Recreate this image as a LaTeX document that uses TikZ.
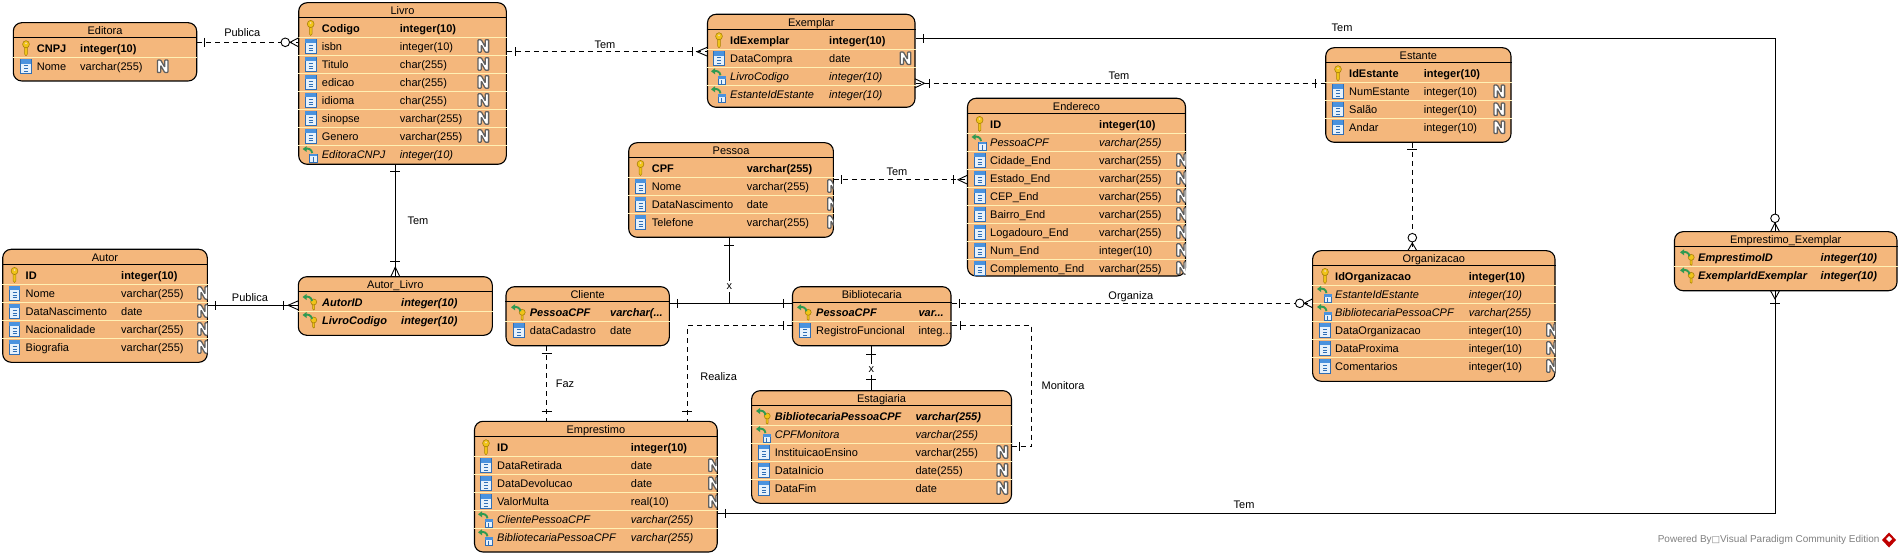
\documentclass[tikz,border=0pt]{standalone}
\usepackage{fontspec}
\setmainfont{Liberation Sans}
\newfontfamily\djv{DejaVu Sans}
\definecolor{entfill}{HTML}{F4B77C}
\definecolor{rowsep}{HTML}{FFF0B4}
\definecolor{keygold}{HTML}{F0C419}
\definecolor{keydark}{HTML}{A98008}
\definecolor{icoblue}{HTML}{4A92DE}
\definecolor{icodark}{HTML}{2F6EB5}
\definecolor{icolight}{HTML}{E6F1FB}
\definecolor{fkgreen}{HTML}{2F9A52}
\definecolor{ngray}{HTML}{5F5F5F}
\tikzset{
  x=1pt,y=-1pt,
  entbox/.style={draw=black,line width=1.1pt,fill=entfill,rounded corners=8.5pt,inner sep=0pt},
  txt/.style={font=\fontsize{11}{13}\selectfont,inner sep=0pt,text height=8pt,text depth=2.3pt,yshift=-1.5pt},
  rowname/.style={txt,anchor=west},
  conlabel/.style={txt,anchor=center},
  conn/.style={line width=1pt,draw=black},
  dconn/.style={conn,dash pattern=on 5pt off 4pt},
  mk/.style={line width=.9pt,draw=black},
  keyico/.pic={
    \draw[line width=.5pt,draw=keydark,fill=keygold] (-1.3,-1.5) -- (-1.3,6) -- (0,7.5) -- (1.3,6) -- (1.3,-1.5) -- cycle;
    \draw[line width=.6pt,draw=keydark,fill=keygold] (0,-4) ellipse [x radius=3.4,y radius=3.6];
    \fill[entfill!60!white] (0,-5) circle[radius=1pt];
  },
  colico/.pic={
    \draw[line width=.7pt,draw=icodark,fill=icolight] (-5.3,-7) rectangle (5.3,7.2);
    \fill[icoblue] (-5.3,-7) rectangle (5.3,-2.6);
    \draw[line width=1.1pt,draw=icodark] (-2,-.5) -- (2,-.5) (-2,2.2) -- (2,2.2) (-2,4.9) -- (2,4.9);
  },
  greenarrow/.pic={
    \draw[line width=1.9pt,draw=fkgreen] (1.5,-1) .. controls (1,-5) and (-3,-6) .. (-5,-5);
    \fill[fkgreen] (-8,-5) -- (-4,-8) -- (-4,-2) -- cycle;
  },
  fkico/.pic={
    \draw[line width=.6pt,draw=icodark,fill=icolight] (-1,0) rectangle (6.5,8);
    \fill[icoblue] (-1,0) rectangle (6.5,2.5);
    \draw[line width=1pt,draw=icodark] (2.7,3.5) -- (2.7,8);
    \pic at (0,0) {greenarrow};
  },
  pfico/.pic={
    \draw[line width=.5pt,draw=keydark,fill=keygold] (2.2,2) -- (2.2,7) -- (3.2,8) -- (4.2,7) -- (4.2,2) -- cycle;
    \draw[line width=.6pt,draw=keydark,fill=keygold] (3.2,0) circle[radius=3pt];
    \pic at (0,0) {greenarrow};
  },
  nico/.pic={
    \draw[line width=1.3pt,draw=ngray,fill=white,rounded corners=.7pt]
      (-5.3,-6.2) -- (-2,-6.2) -- (2,.8) -- (2,-6.2) -- (5.3,-6.2) -- (5.3,6.2) -- (2,6.2) -- (-2,-.8) -- (-2,6.2) -- (-5.3,6.2) -- cycle;
  },
}
\newcount\rowc
% id, title, x1, y1, x2, y2, header line y
\newcommand{\ent}[7]{%
  \def\eid{#1}\def\exa{#3}\def\exb{#5}\def\eya{#4}\def\eyb{#6}\global\rowc=0
  \pgfmathsetmacro\ew{#5-#3}\pgfmathsetmacro\eh{#6-#4}%
  \pgfmathsetmacro\ecx{(#3+#5)/2}\pgfmathsetmacro\ecy{(#4+#6)/2}\pgfmathsetmacro\ety{(#4+#7)/2}%
  \node[entbox,minimum width=\ew pt,minimum height=\eh pt] (#1) at (\ecx,\ecy) {};
  \draw[line width=1pt] (#1.west |- 0,#7) -- (#1.east |- 0,#7);
  \node[conlabel] (#1-title) at (\ecx,\ety) {#2};
}
% icon x, name x, type x, N x
\newcommand{\cols}[4]{\def\cico{#1}\def\cnam{#2}\def\ctyp{#3}\def\cnnn{#4}}
\newcommand{\sepline}[1]{\ifnum\rowc>0
    \pgfmathsetmacro\sy{#1-9}\draw[line width=.9pt,draw=rowsep] (\eid.west |- 0,\sy) -- (\eid.east |- 0,\sy);\fi
  \global\advance\rowc by 1 }
\newcommand{\cellrow}[4]{\node[rowname] (\eid-\the\rowc-n) at (\cnam,#1) {#2#3};
  \node[rowname] (\eid-\the\rowc-t) at (\ctyp,#1) {#2#4};}
\newcommand{\rk}[3]{\sepline{#1}\pic at (\cico,#1) {keyico};\cellrow{#1}{\bfseries}{#2}{#3}}
\newcommand{\rp}[3]{\sepline{#1}\pic at (\cico,#1) {pfico};\cellrow{#1}{\bfseries\itshape}{#2}{#3}}
\newcommand{\rf}[3]{\sepline{#1}\pic at (\cico,#1) {fkico};\cellrow{#1}{\itshape}{#2}{#3}}
\newcommand{\rc}[3]{\sepline{#1}\pic at (\cico,#1) {colico};\cellrow{#1}{}{#2}{#3}}
\newcommand{\rn}[3]{\rc{#1}{#2}{#3}\begin{scope}\clip (\exa,\eya) rectangle (\exb,\eyb);\pic at (\cnnn,#1) {nico};\end{scope}}
% connector marks
\newcommand{\tkv}[2]{\draw[mk] (#1,#2-4.5) -- (#1,#2+4.5);}
\newcommand{\tkh}[2]{\draw[mk] (#1-5,#2) -- (#1+5,#2);}
\newcommand{\crh}[3]{\draw[mk] (#3,#2-4.5) -- (#1,#2) -- (#3,#2+4.5);}
\newcommand{\crv}[3]{\draw[mk] (#1-4.5,#3) -- (#1,#2) -- (#1+4.5,#3);}
\newcommand{\circm}[2]{\draw[mk,fill=white] (#1,#2) circle[radius=4.3pt];}
\begin{document}
\begin{tikzpicture}
\useasboundingbox (0,0) rectangle (1901,556);
\fill[white] (0,0) rectangle (1901,556);

% entities
\ent{editora}{Editora}{13.3}{22.7}{196.7}{81}{37.3}
\cols{26}{36.7}{80}{162.7}
\rk{48.3}{CNPJ}{integer(10)}
\rn{66.3}{Nome}{varchar(255)}

\ent{livro}{Livro}{298.7}{2.7}{506.3}{164.3}{17.3}
\cols{310.7}{321.7}{399.7}{483.3}
\rk{28}{Codigo}{integer(10)}
\rn{46}{isbn}{integer(10)}
\rn{64}{Titulo}{char(255)}
\rn{82}{edicao}{char(255)}
\rn{100}{idioma}{char(255)}
\rn{118}{sinopse}{varchar(255)}
\rn{136}{Genero}{varchar(255)}
\rf{154}{EditoraCNPJ}{integer(10)}

\ent{exemplar}{Exemplar}{707.5}{14.3}{915}{107.3}{29.3}
\cols{719}{730}{829}{905.5}
\rk{40.3}{IdExemplar}{integer(10)}
\rn{58.3}{DataCompra}{date}
\rf{76.3}{LivroCodigo}{integer(10)}
\rf{94.3}{EstanteIdEstante}{integer(10)}

\ent{estante}{Estante}{1325.7}{47.7}{1511}{142.3}{62.7}
\cols{1338}{1349}{1423.7}{1499.3}
\rk{73.3}{IdEstante}{integer(10)}
\rn{91.3}{NumEstante}{integer(10)}
\rn{109.3}{Salão}{integer(10)}
\rn{127.3}{Andar}{integer(10)}

\ent{endereco}{Endereco}{967.5}{98.3}{1185.5}{276}{113.3}
\cols{979.6}{990}{1099}{1182}
\rk{124}{ID}{integer(10)}
\rf{142}{PessoaCPF}{varchar(255)}
\rn{160}{Cidade\_End}{varchar(255)}
\rn{178}{Estado\_End}{varchar(255)}
\rn{196}{CEP\_End}{varchar(255)}
\rn{214}{Bairro\_End}{varchar(255)}
\rn{232}{Logadouro\_End}{varchar(255)}
\rn{250}{Num\_End}{integer(10)}
\rn{268}{Complemento\_End}{varchar(255)}

\ent{pessoa}{Pessoa}{628.7}{142.7}{833.4}{237.3}{157.7}
\cols{640.5}{651.7}{746.6}{833}
\rk{168}{CPF}{varchar(255)}
\rn{186}{Nome}{varchar(255)}
\rn{204}{DataNascimento}{date}
\rn{222}{Telefone}{varchar(255)}

\ent{autor}{Autor}{2.7}{249.3}{207.3}{362.3}{264.3}
\cols{14.5}{25.5}{121}{203}
\rk{275}{ID}{integer(10)}
\rn{293}{Nome}{varchar(255)}
\rn{311}{DataNascimento}{date}
\rn{329}{Nacionalidade}{varchar(255)}
\rn{347}{Biografia}{varchar(255)}

\ent{autorlivro}{Autor\_Livro}{298.3}{276.7}{492.3}{335.3}{291.7}
\cols{310.5}{322}{401}{480}
\rp{302}{AutorID}{integer(10)}
\rp{320}{LivroCodigo}{integer(10)}

\ent{cliente}{Cliente}{506}{286.7}{669.3}{345.7}{301.7}
\cols{519}{529.7}{610}{660}
\rp{312.3}{PessoaCPF}{varchar(...}
\rc{330.3}{dataCadastro}{date}

\ent{bibliotecaria}{Bibliotecaria}{792.5}{286.7}{951}{345.7}{302}
\cols{805}{816}{918.4}{945}
\rp{312.3}{PessoaCPF}{var...}
\rc{330.3}{RegistroFuncional}{integ...}

\ent{estagiaria}{Estagiaria}{751.6}{390.7}{1011.5}{503.3}{405.3}
\cols{764}{774.6}{915.4}{1002.3}
\rp{416}{BibliotecariaPessoaCPF}{varchar(255)}
\rf{434}{CPFMonitora}{varchar(255)}
\rn{452}{InstituicaoEnsino}{varchar(255)}
\rn{470}{DataInicio}{date(255)}
\rn{488}{DataFim}{date}

\ent{emprestimo}{Emprestimo}{474.5}{421.3}{717.2}{552}{436.7}
\cols{486}{497}{630.7}{714}
\rk{447.3}{ID}{integer(10)}
\rn{465.3}{DataRetirada}{date}
\rn{483.3}{DataDevolucao}{date}
\rn{501.3}{ValorMulta}{real(10)}
\rf{519.3}{ClientePessoaCPF}{varchar(255)}
\rf{537.3}{BibliotecariaPessoaCPF}{varchar(255)}

\ent{organizacao}{Organizacao}{1312.6}{250.7}{1555}{381.3}{265.3}
\cols{1325}{1335}{1468.6}{1552}
\rk{276}{IdOrganizacao}{integer(10)}
\rf{294}{EstanteIdEstante}{integer(10)}
\rf{312}{BibliotecariaPessoaCPF}{varchar(255)}
\rn{330}{DataOrganizacao}{integer(10)}
\rn{348}{DataProxima}{integer(10)}
\rn{366}{Comentarios}{integer(10)}

\ent{empex}{Emprestimo\_Exemplar}{1674.5}{231.7}{1897}{290.7}{246.7}
\cols{1688}{1698}{1820.5}{1880}
\rp{257.3}{EmprestimoID}{integer(10)}
\rp{275.3}{ExemplarIdExemplar}{integer(10)}

% connectors
\coordinate (junc) at (729.4,303.3);
\coordinate (realizaTurn) at (687.3,325.7);
\coordinate (monitoraTurn) at (1031.7,325.7);
\coordinate (monitoraLow) at (1031.7,446.7);

\draw[dconn] (editora.east |- 0,42.3) -- (livro.west |- 0,42.3);
\tkv{204}{42.3}\crh{290}{42.3}{298.7}\circm{285.3}{42.3}

\draw[dconn] (livro.east |- 0,51.7) -- (exemplar.west |- 0,51.7);
\tkv{515.7}{51.7}\tkv{692}{51.7}\crh{697}{51.7}{707.5}

\draw[conn] (exemplar.east |- 0,38.3) -| (empex.north -| 1775,0);
\tkv{923}{38.3}\crv{1775}{223}{231.7}\circm{1775}{218.3}

\draw[dconn] (exemplar.east |- 0,83.3) -- (estante.west |- 0,83.3);
\crh{924.5}{83.3}{915}\tkv{929}{83.3}\tkv{1315.7}{83.3}

\draw[dconn] (estante.south -| 1412.3,0) -- (organizacao.north -| 1412.3,0);
\tkh{1412.3}{149}\crv{1412.3}{243}{250.7}\circm{1412.3}{237.7}

\draw[dconn] (pessoa.east |- 0,179.7) -- (endereco.west |- 0,179.7);
\tkv{841}{179.7}\tkv{953}{179.7}\crh{958}{179.7}{967.5}

\draw[conn] (livro.south -| 395.3,0) -- (autorlivro.north -| 395.3,0);
\tkh{395.3}{171}\tkh{395.3}{261.7}\crv{395.3}{267}{276.7}

\draw[conn] (autor.east |- 0,305.3) -- (autorlivro.west |- 0,305.3);
\tkv{215.5}{305.3}\tkv{283.3}{305.3}\crh{288}{305.3}{298.3}

\draw[conn] (pessoa.south -| junc) -- (junc);
\tkh{729.4}{245}
\draw[conn] (cliente.east |- junc) -- (bibliotecaria.west |- junc);
\tkv{677}{303.3}\tkv{783}{303.3}

\draw[dconn] (bibliotecaria.west |- realizaTurn) -- (realizaTurn) -- (emprestimo.north -| realizaTurn);
\tkv{783}{325.7}\tkh{687.3}{411}

\draw[dconn] (cliente.south -| 546.5,0) -- (emprestimo.north -| 546.5,0);
\tkh{546.5}{353.7}\tkh{546.5}{411}

\draw[conn] (bibliotecaria.south -| 871,0) -- (estagiaria.north -| 871,0);
\tkh{871}{354}\tkh{871}{379}

\draw[dconn] (bibliotecaria.east |- monitoraTurn) -- (monitoraTurn) -- (monitoraLow) -- (estagiaria.east |- monitoraLow);
\tkv{960}{325.7}\tkv{1019.5}{446.7}

\draw[dconn] (bibliotecaria.east |- junc) -- (organizacao.west |- junc);
\tkv{959}{303.3}\crh{1304}{303.3}{1312.6}\circm{1299.7}{303.3}

\draw[conn] (emprestimo.east |- 0,513.3) -| (empex.south -| 1775,0);
\tkv{725}{513.3}\tkh{1775}{303.3}\crv{1775}{299}{290.7}

% connector labels
\node[conlabel] (lblPublica1) at (242.3,32) {Publica};
\node[conlabel] (lblTem1) at (605,43.7) {Tem};
\node[conlabel] (lblTem2) at (1342,27) {Tem};
\node[conlabel] (lblTem3) at (1119,75.3) {Tem};
\node[conlabel] (lblTem4) at (897,171) {Tem};
\node[conlabel] (lblTem5) at (418,220.6) {Tem};
\node[conlabel] (lblPublica2) at (250,297) {Publica};
\node[conlabel,fill=white] (lblX1) at (729.4,285) {x};
\node[conlabel,fill=white] (lblX2) at (871.4,368) {x};
\node[conlabel] (lblOrganiza) at (1130.8,295) {Organiza};
\node[conlabel] (lblFaz) at (565,383) {Faz};
\node[conlabel] (lblRealiza) at (718.7,376) {Realiza};
\node[conlabel] (lblMonitora) at (1063,385.5) {Monitora};
\node[conlabel] (lblTem6) at (1244,504) {Tem};

% footer
\node[anchor=west,inner sep=0pt,text=black!50,font=\fontsize{10}{12}\selectfont] (powered) at (1657.6,540) {Powered By{\djv\fontsize{9}{12}\selectfont □}Visual Paradigm Community Edition};
\fill[red!75!black] (1882,540) -- (1889,532.5) -- (1896,540) -- (1889,547.5) -- cycle;
\fill[white] (1886,539) -- (1889,536) -- (1892,539) -- (1889,542) -- cycle;
\end{tikzpicture}
\end{document}
